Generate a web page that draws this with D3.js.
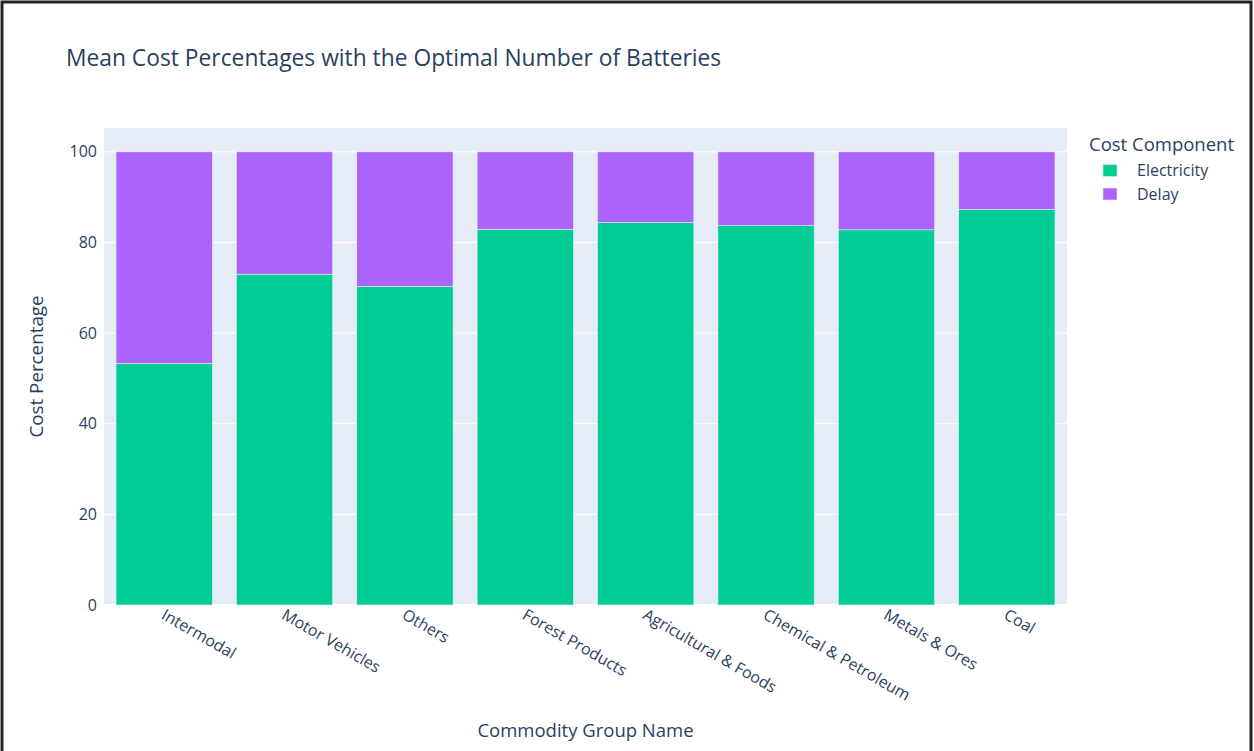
<!DOCTYPE html>
<html>
<head>
<meta charset="utf-8">
<script src="https://cdn.jsdelivr.net/npm/d3@7"></script>
<style>
  body { margin: 0; background: #fff; }
  text { font-family: "Open Sans", "DejaVu Sans", Arial, sans-serif; fill: #2a3f5f; }
</style>
</head>
<body>
<div id="chart"></div>
<script>
// values
const categories = ["Intermodal", "Motor Vehicles", "Others", "Forest Products",
    "Agricultural & Foods", "Chemical & Petroleum", "Metals & Ores", "Coal"];
const electricity = [53.3, 73.0, 70.3, 82.9, 84.4, 83.7, 82.8, 87.3];
const delay = [46.7, 27.0, 29.7, 17.1, 15.6, 16.3, 17.2, 12.7];
const seriesNames = ["Electricity", "Delay"];
const seriesColors = ["#00CC96", "#AB63FA"];
const yTicks = [0, 20, 40, 60, 80, 100];

const width = 1254, height = 751;
const margin = { top: 128, right: 187, bottom: 146, left: 104 };

const svg = d3.select("#chart").append("svg")
    .attr("width", width)
    .attr("height", height);

svg.append("rect").attr("width", width).attr("height", height).attr("fill", "#fff");

const x = d3.scaleBand()
    .domain(categories)
    .range([margin.left, width - margin.right])
    .paddingInner(0.2)
    .paddingOuter(0.1);

const y = d3.scaleLinear()
    .domain([0, 105.26])
    .range([height - margin.bottom, margin.top]);

// plot background
svg.append("rect")
    .attr("x", margin.left)
    .attr("y", margin.top)
    .attr("width", width - margin.left - margin.right)
    .attr("height", height - margin.top - margin.bottom)
    .attr("fill", "#E5ECF6");

// grid lines
svg.append("g")
    .selectAll("line")
    .data(yTicks)
    .join("line")
    .attr("x1", margin.left)
    .attr("x2", width - margin.right)
    .attr("y1", d => y(d))
    .attr("y2", d => y(d))
    .attr("stroke", "#fff")
    .attr("stroke-width", d => d === 0 ? 2 : 1);

// stacked data
const rows = categories.map((c, i) => ({ cat: c, Electricity: electricity[i], Delay: delay[i] }));
const stacked = d3.stack().keys(seriesNames)(rows);

svg.append("g")
    .selectAll("g")
    .data(stacked)
    .join("g")
    .attr("fill", (d, i) => seriesColors[i])
    .selectAll("rect")
    .data(d => d)
    .join("rect")
    .attr("x", d => x(d.data.cat))
    .attr("width", x.bandwidth())
    .attr("y", d => y(d[1]))
    .attr("height", d => y(d[0]) - y(d[1]))
    .attr("stroke", "#E5ECF6")
    .attr("stroke-width", 0.6);

// y axis labels
const yAxis = d3.axisLeft(y).tickValues(yTicks).tickSize(0).tickPadding(7);
svg.append("g")
    .attr("transform", `translate(${margin.left},0)`)
    .call(yAxis)
    .call(g => g.select(".domain").remove())
    .call(g => g.selectAll("text")
        .style("font-size", "16px")
        .attr("fill", "#2a3f5f"));

// x axis labels rotated 30 degrees
const xAxis = d3.axisBottom(x).tickSize(0).tickPadding(0);
svg.append("g")
    .attr("transform", `translate(0,${height - margin.bottom})`)
    .call(xAxis)
    .call(g => g.select(".domain").remove())
    .call(g => g.selectAll("text")
        .style("font-size", "16px")
        .attr("fill", "#2a3f5f")
        .attr("text-anchor", "start")
        .attr("y", 0)
        .attr("dy", 0)
        .attr("transform", "translate(-4,13) rotate(30)"));

// titles
svg.append("text")
    .attr("x", 66)
    .attr("y", 66)
    .style("font-size", "22.8px")
    .text("Mean Cost Percentages with the Optimal Number of Batteries");

svg.append("text")
    .attr("x", margin.left + (width - margin.left - margin.right) / 2)
    .attr("y", 737)
    .attr("text-anchor", "middle")
    .style("font-size", "18.5px")
    .text("Commodity Group Name");

svg.append("text")
    .attr("transform", `translate(43,${(margin.top + height - margin.bottom) / 2}) rotate(-90)`)
    .attr("text-anchor", "middle")
    .style("font-size", "18.8px")
    .text("Cost Percentage");

// legend
const legend = svg.append("g").attr("transform", "translate(1089,0)");
legend.append("text")
    .attr("x", 0)
    .attr("y", 151)
    .style("font-size", "18.5px")
    .text("Cost Component");

const item = legend.selectAll("g.item")
    .data(seriesNames)
    .join("g")
    .attr("class", "item")
    .attr("transform", (d, i) => `translate(0,${170.5 + i * 23.5})`);

item.append("rect")
    .attr("x", 14)
    .attr("y", -6)
    .attr("width", 14)
    .attr("height", 12)
    .attr("fill", (d, i) => seriesColors[i])
    .attr("stroke", "#E5ECF6")
    .attr("stroke-width", 0.6);

item.append("text")
    .attr("x", 48)
    .attr("dy", "0.35em")
    .style("font-size", "16px")
    .text(d => d);

// screenshot frame
svg.append("path")
    .attr("d", `M2,${height} V2 H${width - 3} V${height}`)
    .attr("fill", "none")
    .attr("stroke", "#222")
    .attr("stroke-width", 3);
</script>
</body>
</html>
